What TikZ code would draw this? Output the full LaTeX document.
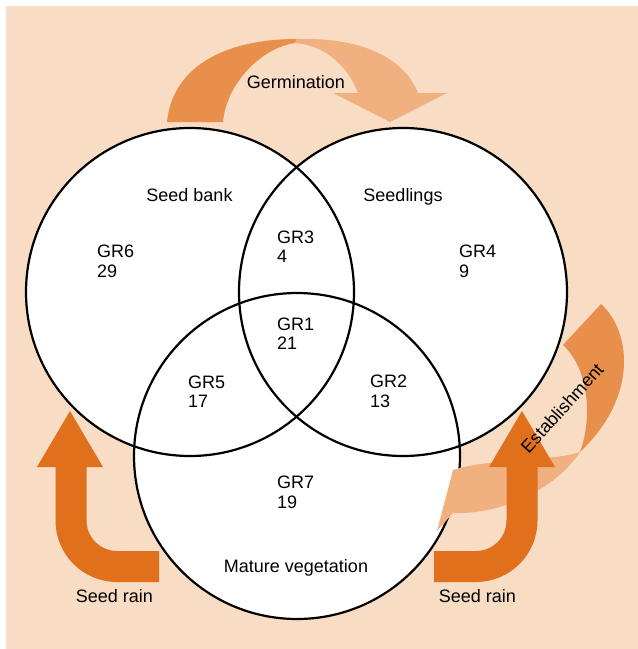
\documentclass[tikz,border=0pt]{standalone}
\usepackage{fontspec}
\setmainfont{Liberation Sans}
\usetikzlibrary{positioning}
\definecolor{bgpeach}{RGB}{248,220,196}
\definecolor{darkarrow}{RGB}{233,143,76}
\definecolor{lightarrow}{RGB}{241,176,128}
\definecolor{rainarrow}{RGB}{224,112,28}

\begin{document}
\begin{tikzpicture}[
  x=1pt, y=-1pt,
  venn/.style={line width=2.2pt, draw=black},
  region/.style={align=left, anchor=west, inner sep=0pt, font=\fontsize{18}{19.5}\selectfont},
  caption/.style={inner sep=0pt, anchor=base, font=\fontsize{18}{19.5}\selectfont},
  rain/.style={draw=rainarrow, line width=31pt, rounded corners=46pt},
]
  \useasboundingbox (0,0) rectangle (638,649);
  \fill[bgpeach] (6,6) rectangle (638,649);

  \coordinate (bank) at (190,292);
  \coordinate (seedl) at (403,292);
  \coordinate (mature) at (297,456);

  \fill[darkarrow] (167,122) .. controls (172,70) and (220,39) .. (297,39)
    -- (295,43) .. controls (260,48) and (226,85) .. (223,122) -- cycle;
  \fill[lightarrow] (297,39) .. controls (365,37) and (405,60) .. (418,93)
    -- (447,93) -- (390,122) -- (333,93) -- (358,93)
    .. controls (345,60) and (320,45) .. (295,43) -- cycle;

  \fill[white] (bank) circle[radius=164] (seedl) circle[radius=164] (mature) circle[radius=163];
  \draw[venn] (bank) circle[radius=164];
  \draw[venn] (seedl) circle[radius=164];
  \draw[venn] (mature) circle[radius=163];

  \fill[darkarrow] (601,304) .. controls (630,330) and (640,395) .. (580,452)
    .. controls (592,420) and (590,370) .. (563,345) -- cycle;
  \fill[lightarrow] (580,452) .. controls (555,490) and (500,515) .. (453,513)
    -- (437,531) -- (453,470) .. controls (490,458) and (550,462) .. (580,452) -- cycle;

  \draw[rain] (159,566.5) -| (71,465);
  \fill[rainarrow] (37,467) -- (103,467) -- (70,411) -- cycle;
  \draw[rain] (434,566.5) -| (522,465);
  \fill[rainarrow] (489,467) -- (555,467) -- (522,411) -- cycle;

  \node[caption] (germ) at (296,88) {Germination};
  \node[caption] (banklabel) at (189.5,201.5) {Seed bank};
  \node[caption] (seedllabel) at (403,201.5) {Seedlings};
  \node[caption] (maturelabel) at (296,572) {Mature vegetation};
  \node[caption] (rainleft) at (114.5,602.5) {Seed rain};
  \node[caption] (rainright) at (477.5,602.5) {Seed rain};
  \node[inner sep=0pt, rotate=48, font=\fontsize{18}{19.5}\selectfont] (estab) at (562,408) {Establishment};

  \node[region] (gr6) at (97,261.5) {GR6\\29};
  \node[region] (gr3) at (277,246.5) {GR3\\4};
  \node[region] (gr4) at (459,261.5) {GR4\\9};
  \node[region] (gr1) at (277,333.5) {GR1\\21};
  \node[region] (gr5) at (188,391.5) {GR5\\17};
  \node[region] (gr2) at (370,391.5) {GR2\\13};
  \node[region] (gr7) at (277,492.5) {GR7\\19};
\end{tikzpicture}
\end{document}
